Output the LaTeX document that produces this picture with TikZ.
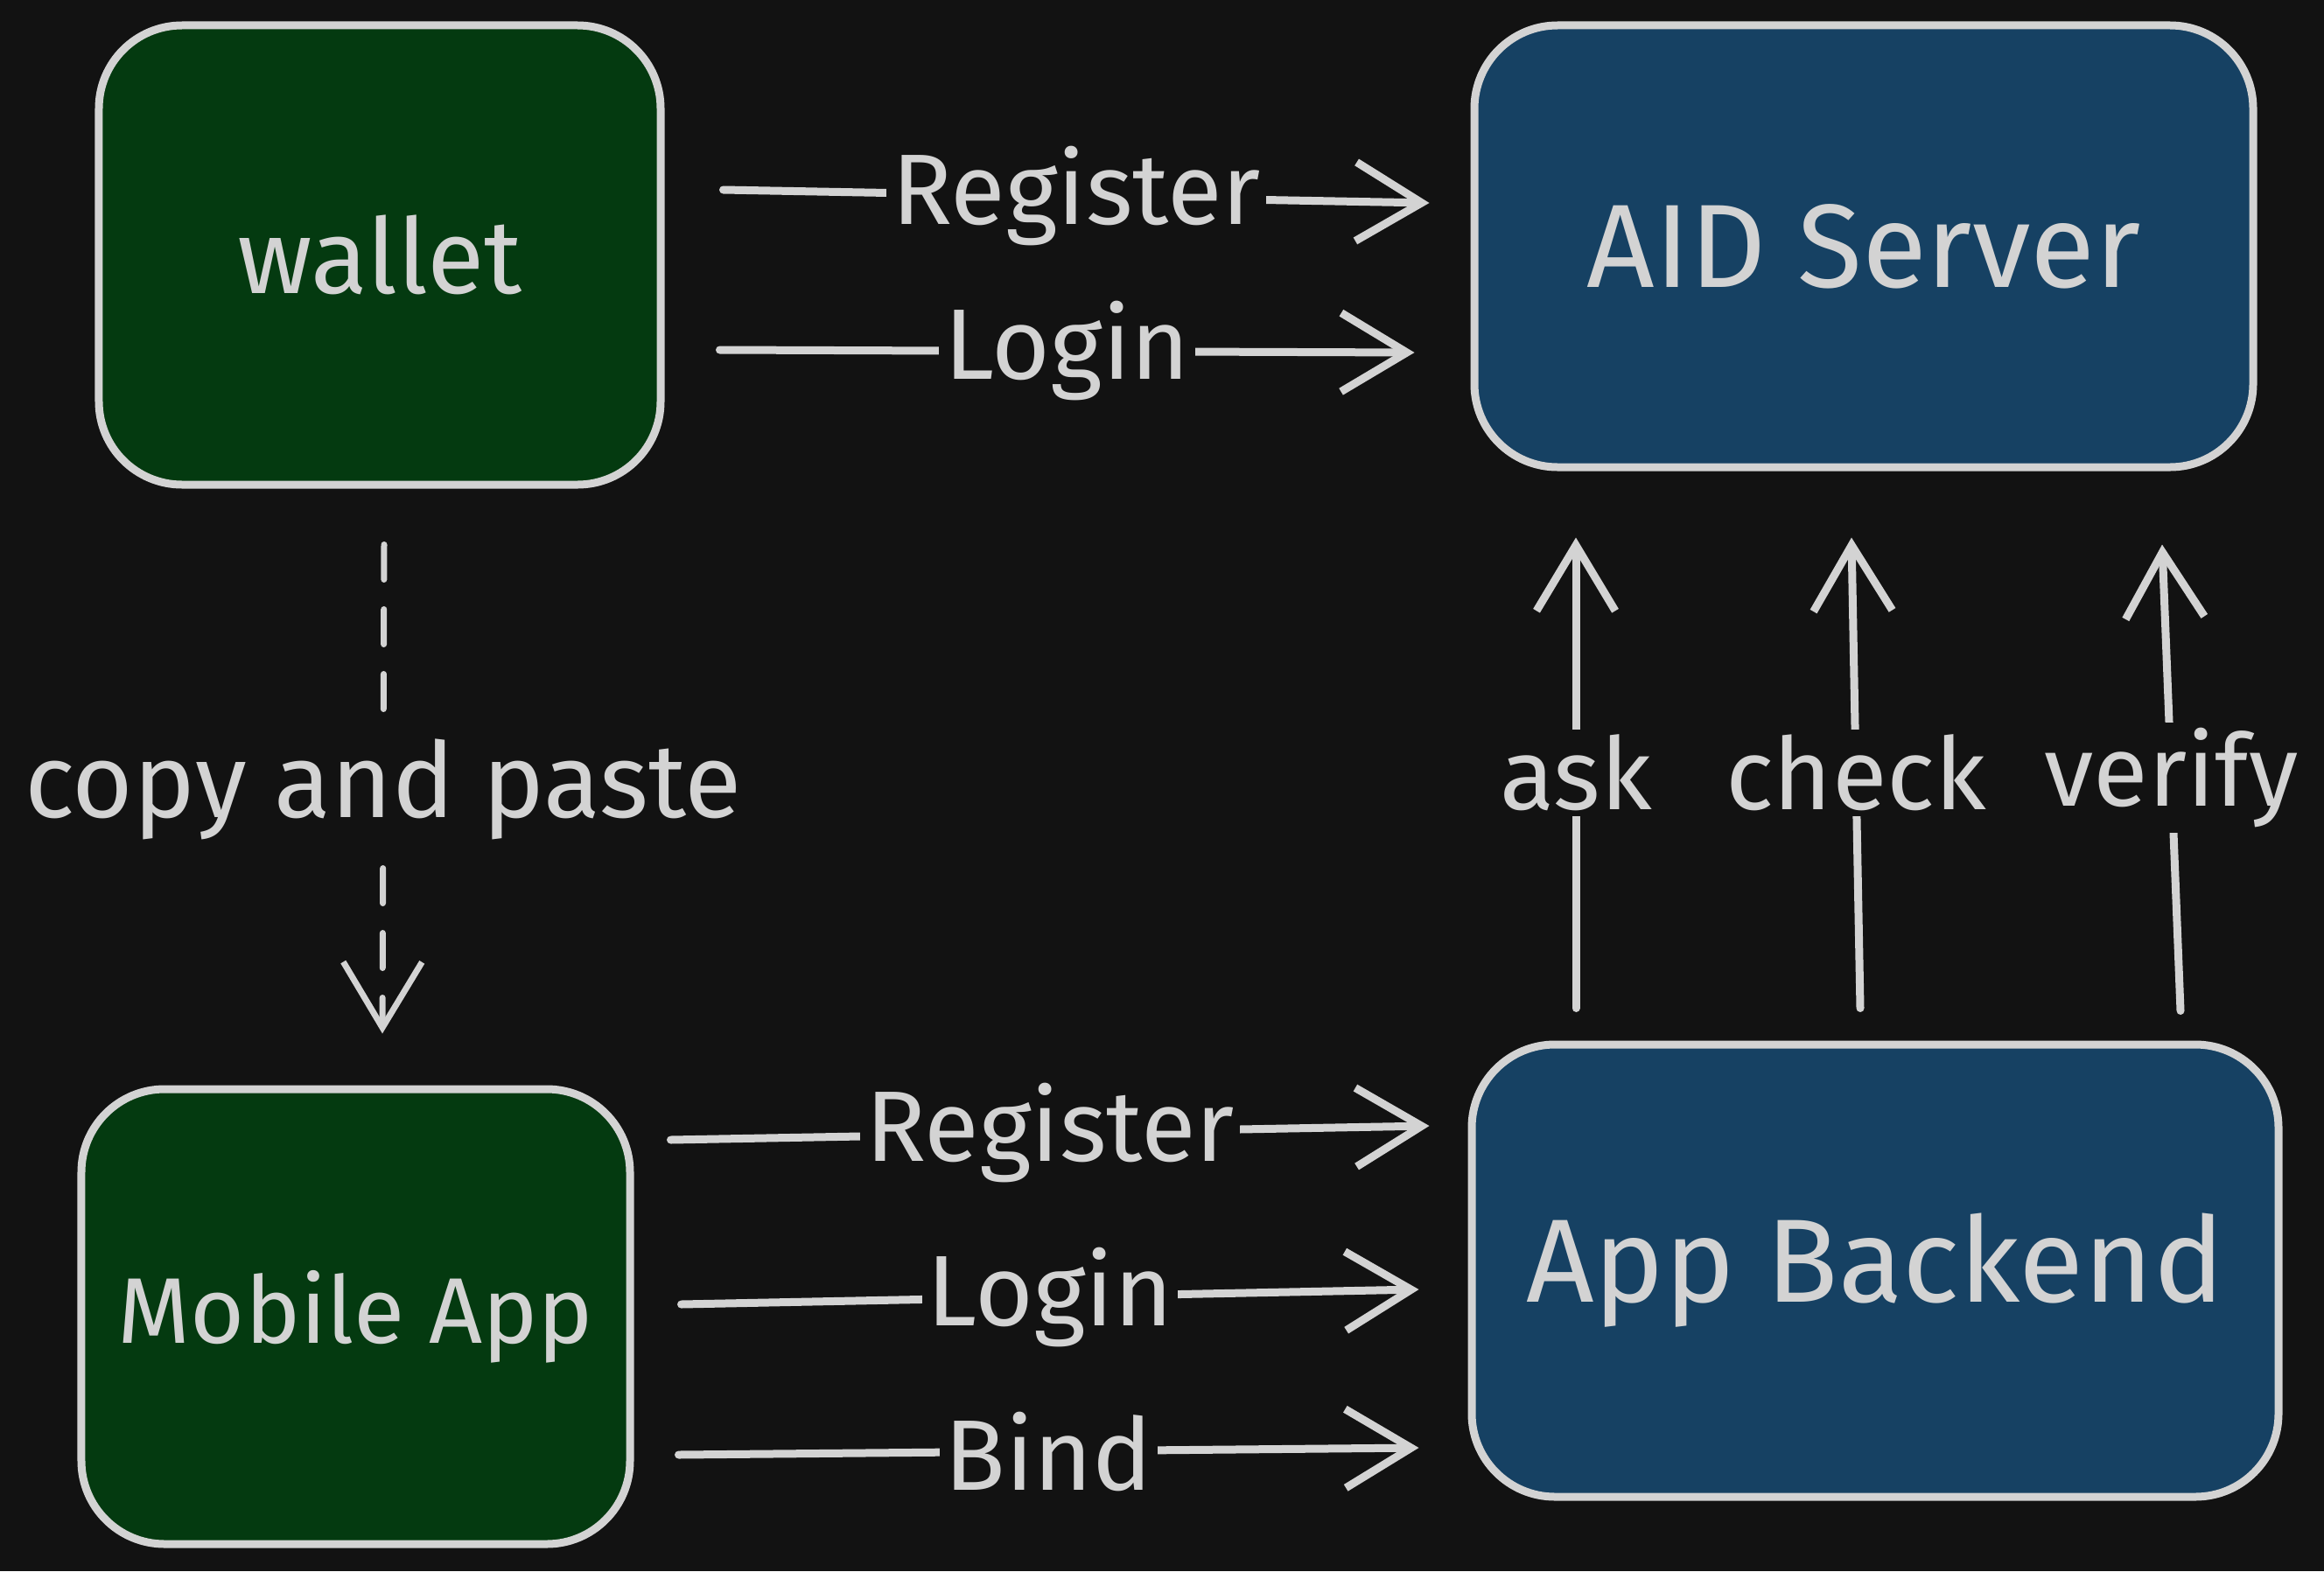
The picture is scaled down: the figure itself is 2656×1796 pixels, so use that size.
\documentclass[tikz,border=0pt]{standalone}
\usepackage{fontspec}
\setmainfont{Fira Sans}
\usetikzlibrary{arrows.meta}
\definecolor{bg}{HTML}{121212}
\definecolor{ink}{HTML}{D3D3D3}
\definecolor{gbox}{HTML}{043A10}
\definecolor{bbox}{HTML}{164163}
\begin{document}
\begin{tikzpicture}[x=1bp,y=-1bp,
  box/.style={draw=ink, line width=9bp, rounded corners=95bp, text=ink, inner sep=0pt},
  arr/.style={draw=ink, line width=9bp, line cap=round, -{Straight Barb[length=75bp,width=90bp]}},
  dasharr/.style={arr, line width=7bp, dash pattern=on 40bp off 34bp},
  lbl/.style={fill=bg, text=ink, inner sep=6bp, font=\fontsize{115}{130}\selectfont}
]
\fill[bg] (0,0) rectangle (2656,1796);
\useasboundingbox (0,0) rectangle (2656,1796);

\node[box, fill=gbox, minimum width=642bp, minimum height=525bp, font=\fontsize{120}{140}\selectfont] (wallet) at (434,291.5) {wallet};
\node[box, fill=bbox, minimum width=890bp, minimum height=505bp, font=\fontsize{136}{160}\selectfont] (aid) at (2130,281.5) {AID Server};
\node[box, fill=gbox, minimum width=627bp, minimum height=520bp, font=\fontsize{107}{130}\selectfont] (mobile) at (406.5,1505) {Mobile App};
\node[box, fill=bbox, minimum width=922bp, minimum height=517bp, font=\fontsize{136}{160}\selectfont] (backend) at (2143,1452.5) {App Backend};

% wallet -> AID Server
\draw[arr] ([shift={(67,-74.5)}]wallet.east) -- node[lbl] {Register} ([shift={(-47,-49.5)}]aid.west);
\draw[arr] ([shift={(63,108.5)}]wallet.east) -- node[lbl] {Login} ([shift={(-64,121.5)}]aid.west);

% Mobile App -> App Backend
\draw[arr] ([shift={(42,-202)}]mobile.east) -- node[lbl] {Register} ([shift={(-44,-165.5)}]backend.west);
\draw[arr] ([shift={(54,-14)}]mobile.east) -- node[lbl] {Login} ([shift={(-56,21.5)}]backend.west);
\draw[arr] ([shift={(51,158)}]mobile.east) -- node[lbl] {Bind} ([shift={(-56,202.5)}]backend.west);

% wallet -> Mobile App (dashed)
\draw[dasharr] ([shift={(5,64)}]wallet.south) -- node[lbl, font=\fontsize{120}{140}\selectfont] {copy and paste} ([shift={(30.5,-59)}]mobile.north);

% App Backend -> AID Server
\draw[arr] ([shift={(-342,-37)}]backend.north) -- node[lbl] {ask} ([shift={(-329,76)}]aid.south);
\draw[arr] ([shift={(-17,-37)}]backend.north) -- node[lbl] {check} ([shift={(-14,76)}]aid.south);
\draw[arr] ([shift={(349,-34)}]backend.north) -- node[lbl] {verify} ([shift={(341,84)}]aid.south);
\end{tikzpicture}
\end{document}
